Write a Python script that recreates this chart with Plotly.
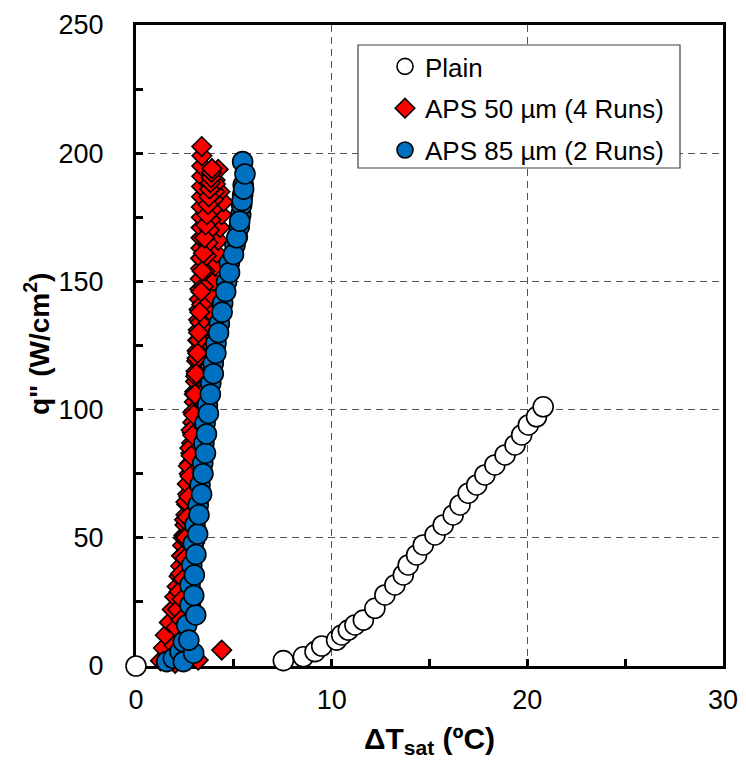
import plotly.graph_objects as go

# ---------------- data ----------------
plain_dt = [0.0, 7.53, 8.55, 9.15, 9.49, 10.25, 10.51, 10.85, 11.19, 11.62, 12.21, 12.72, 13.23,
            13.66, 13.91, 14.34, 14.68, 15.28, 15.70, 16.21, 16.56, 16.98, 17.41, 17.83, 18.34,
            18.86, 19.37, 19.71, 20.05, 20.47, 20.81]
plain_q = [0.0, 2.1, 3.6, 5.6, 7.8, 10.1, 12.1, 14.0, 16.0, 17.9, 22.5, 27.7, 31.6,
           35.5, 39.4, 43.3, 47.2, 51.1, 55.0, 58.9, 62.8, 67.4, 70.6, 74.5, 78.4,
           82.3, 86.2, 90.1, 94.0, 97.2, 101.1]

# APS 50 um, four runs
aps50_run1_dt = [1.25, 1.40, 1.50, 1.70, 1.85, 1.98, 2.10, 2.20, 2.28, 2.33, 2.38, 2.45, 2.50, 2.55,
                 2.60, 2.64, 2.68, 2.72, 2.75, 2.80, 2.84, 2.88, 2.90, 2.94, 2.98, 3.00, 3.04, 3.07,
                 3.10, 3.12, 3.15, 3.18, 3.20, 3.22, 3.24, 3.26, 3.28, 3.30, 3.30, 3.32, 3.32, 3.33,
                 3.34, 3.34, 3.35, 3.35, 3.36, 3.36, 3.37, 3.36]
aps50_run1_q = [2.0, 7.0, 12.0, 17.0, 22.0, 27.0, 31.0, 35.0, 39.0, 43.0, 47.0, 51.0, 55.0, 59.0,
                63.0, 67.0, 71.0, 75.0, 79.0, 83.0, 87.0, 91.0, 95.0, 99.0, 103.0, 107.0, 111.0, 115.0,
                119.0, 123.0, 127.0, 131.0, 135.0, 139.0, 143.0, 147.0, 151.0, 155.0, 159.0, 163.0,
                167.0, 171.0, 175.0, 179.0, 183.0, 187.0, 191.0, 195.0, 199.0, 202.6]
aps50_run2_dt = [4.38, 2.60, 2.70, 2.78, 2.85, 2.90, 2.95, 3.00, 3.06, 3.12, 3.18, 3.24, 3.30, 3.35,
                 3.40, 3.46, 3.52, 3.58, 3.63, 3.68, 3.72, 3.78, 3.84, 3.90, 3.96, 4.04, 4.12, 4.20,
                 4.29, 4.38, 4.46, 4.29, 4.04, 4.20]
aps50_run2_q = [6.2, 12.0, 18.0, 24.0, 30.0, 36.0, 42.0, 48.0, 54.0, 60.0, 66.0, 72.0, 78.0, 84.0,
                90.0, 96.0, 102.0, 108.0, 114.0, 120.0, 126.0, 132.0, 138.0, 144.0, 150.0, 156.0,
                161.0, 166.0, 171.0, 176.0, 181.0, 185.0, 189.5, 193.7]
aps50_run3_dt = [3.18, 1.95, 2.05, 2.12, 2.20, 2.28, 2.35, 2.42, 2.48, 2.55, 2.62, 2.68, 2.75, 2.82,
                 2.90, 2.98, 3.05, 3.12, 3.20, 3.28, 3.36, 3.44, 3.52, 3.60, 3.68, 3.75, 3.82, 3.90,
                 3.96, 4.02, 4.06]
aps50_run3_q = [2.3, 8.0, 15.0, 22.0, 29.0, 36.0, 43.0, 50.0, 57.0, 64.0, 71.0, 78.0, 85.0, 92.0,
                99.0, 106.0, 113.0, 120.0, 127.0, 134.0, 141.0, 148.0, 154.0, 160.0, 165.0, 170.0,
                174.0, 178.0, 182.0, 185.0, 188.0]
aps50_run4_dt = [2.00, 2.60, 2.40, 2.30, 2.35, 2.42, 2.50, 2.55, 2.62, 2.70, 2.76, 2.82, 2.90, 2.95,
                 3.02, 3.08, 3.15, 3.20, 3.26, 3.32, 3.38, 3.44, 3.50, 3.56, 3.62, 3.68, 3.72, 3.76,
                 3.80, 3.84, 3.86, 3.88]
aps50_run4_q = [1.0, 4.0, 10.0, 18.0, 26.0, 34.0, 42.0, 50.0, 58.0, 66.0, 74.0, 82.0, 90.0, 98.0,
                106.0, 114.0, 122.0, 130.0, 138.0, 146.0, 154.0, 161.0, 167.0, 172.0, 176.0, 180.0,
                183.0, 186.0, 188.5, 190.5, 192.5, 194.0]

# APS 85 um, two runs
aps85_run1_dt = [1.57, 1.91, 2.25, 2.42, 2.59, 2.76, 2.76, 2.85, 2.93, 3.01, 3.18, 3.27, 3.41, 3.47,
                 3.53, 3.65, 3.82, 3.95, 4.09, 4.26, 4.43, 4.63, 4.77, 5.06, 5.18, 5.28, 5.35, 5.40,
                 5.45, 5.48, 5.45]
aps85_run1_q = [1.7, 3.0, 5.6, 9.5, 16.0, 23.8, 31.6, 39.4, 47.8, 55.0, 62.8, 70.6, 79.1, 86.9,
                94.7, 101.8, 110.3, 118.1, 125.9, 133.6, 141.5, 149.9, 157.1, 164.2, 167.4, 171.4,
                175.9, 179.8, 183.7, 187.6, 196.7]
aps85_run2_dt = [2.42, 2.95, 2.70, 3.05, 2.95, 2.98, 3.06, 3.15, 3.22, 3.35, 3.42, 3.55, 3.60, 3.70,
                 3.80, 3.95, 4.08, 4.22, 4.40, 4.58, 4.78, 4.98, 5.15, 5.30, 5.42, 5.50, 5.57]
aps85_run2_q = [1.7, 5.0, 10.1, 19.9, 27.5, 35.5, 43.5, 51.5, 59.0, 67.0, 75.0, 83.0, 90.5, 98.5,
                106.0, 114.0, 122.0, 130.0, 138.0, 146.0, 153.5, 160.5, 167.0, 173.5, 181.5, 186.0,
                191.9]

aps50_dt = aps50_run1_dt + aps50_run2_dt + aps50_run3_dt + aps50_run4_dt
aps50_q = aps50_run1_q + aps50_run2_q + aps50_run3_q + aps50_run4_q
aps85_dt = aps85_run1_dt + aps85_run2_dt
aps85_q = aps85_run1_q + aps85_run2_q

series_names = ["Plain", "APS 50 µm (4 Runs)", "APS 85 µm (2 Runs)"]
x_ticks = [0, 10, 20, 30]
y_ticks = [0, 50, 100, 150, 200, 250]
x_title = "ΔT<sub>sat</sub> (ºC)"
y_title = "q\" (W/cm<sup>2</sup>)"

# ---------------- figure ----------------
# the page body adds an 8 px offset; figure is sized so the plot lands where the reference has it
OFF = 8
W, H = 738, 751
L, T = 136 - OFF, 25 - OFF
R = W - (723 - OFF)
B = H - (666 - OFF)
FONT = "Liberation Sans, Arial, sans-serif"

fig = go.Figure()
line = dict(color="black", width=1.6)
fig.add_trace(go.Scatter(x=plain_dt, y=plain_q, mode="markers", name=series_names[0],
                         marker=dict(symbol="circle", size=20, color="white", line=line),
                         cliponaxis=False, legendgroup="a"))
fig.add_trace(go.Scatter(x=aps50_dt, y=aps50_q, mode="markers", name=series_names[1],
                         marker=dict(symbol="diamond", size=15, color="#FF0000", line=line),
                         cliponaxis=False, legendgroup="b"))
fig.add_trace(go.Scatter(x=aps85_dt, y=aps85_q, mode="markers", name=series_names[2],
                         marker=dict(symbol="circle", size=20, color="#0070C0", line=line),
                         cliponaxis=False, legendgroup="c"))

pw = W - L - R
ph = H - T - B

def px_x(p):
    # screen pixel -> paper fraction
    return (p - OFF - L) / pw

def px_y(p):
    return (H - B - (p - OFF)) / ph

fig.add_shape(type="rect", xref="paper", yref="paper",
              x0=px_x(358), x1=px_x(680), y0=px_y(168), y1=px_y(45),
              line=dict(color="#404040", width=1.2), fillcolor="white", layer="above")

axis_common = dict(
    showline=True, linecolor="black", linewidth=3, mirror=True,
    ticks="inside", ticklen=7, tickwidth=2.5, tickcolor="black",
    showgrid=True, gridcolor="#555555", gridwidth=1.3, griddash="7px,5px",
    zeroline=False, layer="below traces",
    tickfont=dict(family=FONT, size=27, color="black"),
)

fig.update_xaxes(range=[0, 30], tickvals=x_ticks, ticktext=[str(v) for v in x_ticks],
                 minor=dict(dtick=5, tick0=0, ticks="inside", ticklen=7, tickwidth=2.5,
                            tickcolor="black", showgrid=False),
                 title=dict(text=x_title, standoff=20,
                            font=dict(family=FONT, size=30, color="black", weight="bold")),
                 ticklabelstandoff=8, **axis_common)
fig.update_yaxes(range=[0, 250], tickvals=y_ticks, ticktext=[str(v) for v in y_ticks],
                 minor=dict(dtick=25, tick0=0, ticks="inside", ticklen=7, tickwidth=2.5,
                            tickcolor="black", showgrid=False),
                 ticklabelstandoff=24, **axis_common)

# y-axis title placed as a rotated annotation to match the reference position
fig.add_annotation(text=y_title, xref="paper", yref="paper",
                   x=px_x(37), y=px_y(344), xanchor="center", yanchor="middle",
                   textangle=-90, showarrow=False,
                   font=dict(family=FONT, size=28, color="black", weight="bold"))

fig.update_layout(
    width=W, height=H,
    margin=dict(l=L, r=R, t=T, b=B, autoexpand=False),
    paper_bgcolor="white", plot_bgcolor="white",
    showlegend=True,
    legend=dict(x=px_x(385), y=px_y(43), xanchor="left", yanchor="top",
                bgcolor="rgba(0,0,0,0)", borderwidth=0,
                font=dict(family=FONT, size=26, color="black"),
                traceorder="grouped", tracegroupgap=5, itemwidth=30),
)

fig.write_html("out.html")
